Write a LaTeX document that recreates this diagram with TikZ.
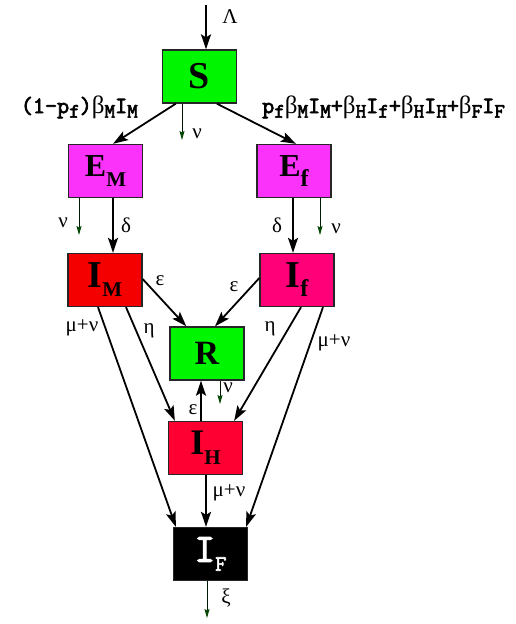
\documentclass[tikz,border=0pt]{standalone}
\usepackage{fontspec}
\setmainfont{Liberation Serif}
\newfontfamily\courb[FakeBold=3]{Latin Modern Mono}
\usetikzlibrary{calc,arrows.meta}
\definecolor{sgreen}{RGB}{0,245,0}
\definecolor{emag}{RGB}{250,50,250}
\definecolor{imred}{RGB}{245,0,0}
\definecolor{ifpink}{RGB}{255,0,120}
\definecolor{ihred}{RGB}{255,0,50}
\definecolor{tipgreen}{RGB}{0,70,0}
\newcommand{\fs}[1]{\fontsize{#1}{#1}\selectfont}
\newcommand{\lowsub}[1]{\raisebox{-4.5pt}{\fs{20.5}#1}}
\newcommand{\bl}{{\rmfamily\mdseries\fs{25}β}}
\begin{document}
\begin{tikzpicture}[x=1pt,y=-1pt,
  box/.style={draw=black!85, line width=1.3pt, minimum width=74pt, minimum height=53pt, inner sep=0pt, text=black},
  flow/.style={line width=1.8pt, -{Stealth[length=15pt,width=10pt,inset=3pt]}},
  loss/.style={line width=0.9pt, draw=black!90!green, -{Stealth[length=9pt,width=5pt,inset=1.5pt,color=tipgreen]}},
  lab/.style={inner sep=0pt, font=\fs{21}},
  rate/.style={inner sep=0pt, font=\courb\fs{23.5}}]
\useasboundingbox (0,0) rectangle (515,624);
% boxes
\node[box, fill=sgreen] (S) at (199.5,76.5) {\fs{38}\bfseries S};
\node[box, fill=emag] (EM) at (105.5,171) {\bfseries\fs{32}E\raisebox{-10pt}{\fs{21}M}};
\node[box, fill=emag] (Ef) at (294,171) {\bfseries\fs{32}E\raisebox{-10pt}{\fs{24}f}};
\node[box, fill=imred] (IM) at (105,280) {\bfseries\fs{38}I\raisebox{-9pt}{\fs{21}M}};
\node[box, fill=ifpink] (If) at (297,280) {\bfseries\fs{38}I\raisebox{-9pt}{\fs{24}f}};
\node[box, fill=sgreen] (R) at (207,353.5) {\bfseries\fs{34}R};
\node[box, fill=ihred] (IH) at (205.5,448) {\bfseries\fs{36}I\raisebox{-10pt}{\fs{21}H}};
\node[box, fill=black, text=white] (IF) at (210.5,554) {\courb\fs{40}I\raisebox{-9pt}{\fs{22}F}};
% free ends
\coordinate (lam) at (206,5);
\coordinate (Snu) at (182,140);
\coordinate (EMnu) at (79,235);
\coordinate (Efnu) at (320,235);
\coordinate (Rnu) at (220,404);
\coordinate (IFout) at (207,618);
% arrows
\draw[flow] (lam) -- ($(S.north)+(6.5,0)$);
\draw[flow] ($(S.south west)+(14,0)$) -- ($(EM.north)+(7.5,0)$);
\draw[flow] ($(S.south west)+(55,0)$) -- ($(Ef.north)+(2,0)$);
\draw[loss] ($(S.south)+(-17.5,0)$) -- (Snu);
\draw[loss] ($(EM.south)+(-26.5,0)$) -- (EMnu);
\draw[flow] ($(EM.south)+(7.5,0)$) -- ($(IM.north)+(8,0)$);
\draw[flow] ($(Ef.south)+(-1,0)$) -- ($(If.north)+(-4,0)$);
\draw[loss] ($(Ef.south)+(26,0)$) -- (Efnu);
\draw[flow] ($(IM.east)+(0,-1)$) -- ($(R.north west)+(17,0)$);
\draw[flow] ($(If.west)+(0,-2)$) -- ($(R.north)+(8,0)$);
\draw[flow] ($(IM.south)+(-7,0)$) -- ($(IF.north west)+(3,0)$);
\draw[flow] ($(IM.south)+(21,0)$) -- ($(IH.north west)+(7,0)$);
\draw[flow] ($(If.south)+(4,0)$) -- ($(IH.north east)+(-9,0)$);
\draw[flow] ($(If.south)+(26,0)$) -- ($(IF.north east)+(-2,0)$);
\draw[flow] ($(IH.north)+(-4.5,0)$) -- ($(R.south)+(-6,0)$);
\draw[loss] ($(R.south)+(13,0)$) -- (Rnu);
\draw[flow] ($(IH.south)+(0.5,0)$) -- ($(IF.north)+(-4.5,0)$);
\draw[loss] ($(IF.south)+(-3.5,0)$) -- (IFout);
% labels
\node[lab] (lLam) at (230,17) {Λ};
\node[lab] (lSnu) at (197,134) {ν};
\node[rate, anchor=east] (lleft) at (138,107) {(1-p\lowsub{f})\bl\lowsub{M}I\lowsub{M}};
\node[rate, anchor=west] (lright) at (262,107) {p\lowsub{f}\bl\lowsub{M}I\lowsub{M}+\bl\lowsub{H}I\lowsub{f}+\bl\lowsub{H}I\lowsub{H}+\bl\lowsub{F}I\lowsub{F}};
\node[lab] (l1) at (63,223) {ν};
\node[lab] (l2) at (126,225) {δ};
\node[lab] (l3) at (277,225) {δ};
\node[lab] (l4) at (336,229) {ν};
\node[lab] (l5) at (160,281) {ε};
\node[lab] (l6) at (234,287) {ε};
\node[lab] (l7) at (82,328) {μ+ν};
\node[lab] (l8) at (149,331) {η};
\node[lab] (l9) at (270,329) {η};
\node[lab] (l10) at (334,343) {μ+ν};
\node[lab] (l11) at (193,410) {ε};
\node[lab] (l12) at (228,388) {ν};
\node[lab] (l13) at (229,493) {μ+ν};
\node[lab] (l14) at (226,598) {ξ};
\end{tikzpicture}
\end{document}
